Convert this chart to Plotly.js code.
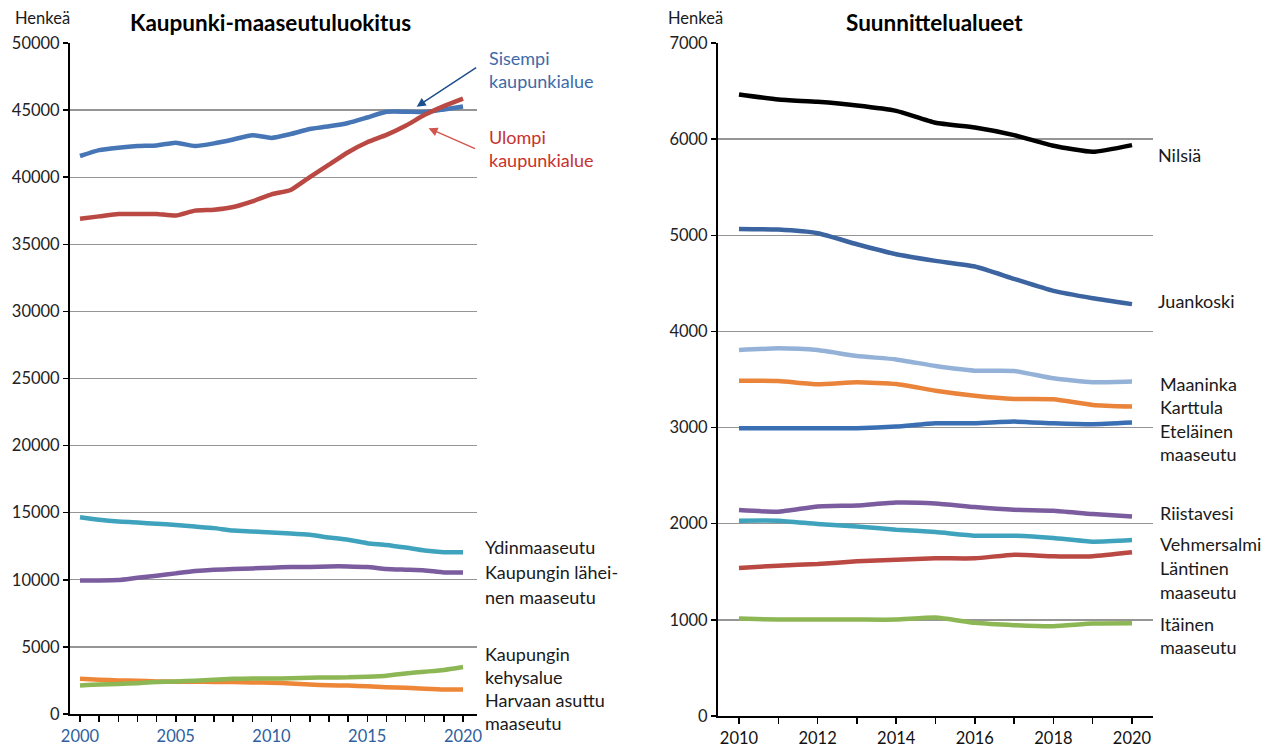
<!DOCTYPE html>
<html>
<head>
<meta charset="utf-8">
<script src="https://cdn.plot.ly/plotly-3.0.1.min.js"></script>
<style>html,body{margin:0;padding:0;background:#fff;}#chart{width:1270px;height:749px;}</style>
</head>
<body>
<div id="chart"></div>
<script>
// ---- Left chart: Kaupunki-maaseutuluokitus ----
const yearsLeft = [2000,2001,2002,2003,2004,2005,2006,2007,2008,2009,2010,2011,2012,2013,2014,2015,2016,2017,2018,2019,2020];
const sisempi   = [41580,42020,42200,42320,42370,42570,42320,42520,42810,43130,42930,43220,43590,43790,44040,44450,44870,44880,44850,45050,45270];
const ulompi    = [36910,37080,37260,37260,37260,37140,37510,37580,37780,38200,38720,39050,40010,40930,41860,42600,43150,43830,44650,45300,45860];
const ydinmaaseutu = [14660,14470,14340,14270,14170,14090,13970,13850,13670,13600,13520,13450,13350,13150,12980,12730,12600,12400,12180,12060,12060];
const lahimaaseutu = [9950,9950,9980,10150,10300,10480,10650,10750,10800,10850,10900,10950,10950,11000,11000,10950,10800,10750,10700,10550,10550];
const kehysalue    = [2130,2200,2230,2300,2380,2430,2480,2560,2620,2640,2650,2660,2700,2720,2730,2780,2850,3020,3150,3280,3500];
const harvaan      = [2630,2560,2500,2480,2430,2410,2400,2390,2380,2350,2330,2270,2190,2140,2120,2060,2000,1950,1880,1820,1820];
const leftTickVals = yearsLeft;
const leftTickText = ['2000','','','','','2005','','','','','2010','','','','','2015','','','','','2020'];

// ---- Right chart: Suunnittelualueet ----
const yearsRight = [2010,2011,2012,2013,2014,2015,2016,2017,2018,2019,2020];
const nilsia     = [6464,6412,6388,6350,6294,6170,6121,6042,5931,5868,5938];
const juankoski  = [5066,5059,5021,4907,4803,4734,4675,4547,4422,4346,4284];
const maaninka   = [3806,3824,3806,3744,3709,3640,3592,3589,3512,3471,3478];
const karttula   = [3488,3484,3450,3471,3453,3384,3332,3298,3294,3235,3218];
const etelainen  = [2993,2993,2993,2993,3010,3045,3045,3062,3045,3035,3052];
const riistavesi = [2142,2125,2180,2190,2221,2211,2173,2145,2135,2100,2076];
const vehmersalmi= [2031,2031,1997,1972,1938,1913,1875,1875,1851,1813,1830];
const lantinen   = [1540,1564,1581,1609,1626,1640,1640,1678,1661,1661,1702];
const itainen    = [1014,1003,1003,1003,1003,1024,969,945,934,962,965];
const rightTickVals = yearsRight;
const rightTickText = ['2010','','2012','','2014','','2016','','2018','','2020'];

const W = 1270, H = 749;
const px = v => v / W;
const py = v => 1 - v / H;
const FONT = 'Lato, "Open Sans", sans-serif';

function ln(x, y, color, xa, ya, width) {
  return {x: x, y: y, type: 'scatter', mode: 'lines', xaxis: xa, yaxis: ya,
    line: {color: color, width: width || 4.5, shape: 'spline', smoothing: 0.5},
    hoverinfo: 'skip', showlegend: false};
}

const data = [
  ln(yearsLeft, sisempi, '#4676B5', 'x', 'y'),
  ln(yearsLeft, ulompi, '#BA4843', 'x', 'y'),
  ln(yearsLeft, ydinmaaseutu, '#3FA3BD', 'x', 'y'),
  ln(yearsLeft, lahimaaseutu, '#7B5C9E', 'x', 'y'),
  ln(yearsLeft, harvaan, '#EE8638', 'x', 'y'),
  ln(yearsLeft, kehysalue, '#8DB654', 'x', 'y'),
  ln(yearsRight, nilsia, '#000000', 'x2', 'y2'),
  ln(yearsRight, juankoski, '#3B64A0', 'x2', 'y2'),
  ln(yearsRight, maaninka, '#94B2D8', 'x2', 'y2'),
  ln(yearsRight, karttula, '#E9843A', 'x2', 'y2'),
  ln(yearsRight, etelainen, '#3A6FB4', 'x2', 'y2'),
  ln(yearsRight, riistavesi, '#7B5C9E', 'x2', 'y2'),
  ln(yearsRight, vehmersalmi, '#3FA3BD', 'x2', 'y2'),
  ln(yearsRight, lantinen, '#BA4843', 'x2', 'y2'),
  ln(yearsRight, itainen, '#8DB654', 'x2', 'y2')
];

const axisCommon = {
  showline: true, linecolor: '#000', linewidth: 2, ticks: 'outside', tickcolor: '#000',
  ticklen: 6, tickwidth: 1.5, zeroline: false, fixedrange: true
};

function lbl(text, x, y, color, size) {
  return {text: text, x: px(x), y: py(y), xref: 'paper', yref: 'paper', xanchor: 'left', yanchor: 'middle',
    showarrow: false, font: {family: FONT, size: size || 18, color: color || '#1a1a1a'}};
}

const annotations = [
  {text: '<b>Kaupunki-maaseutuluokitus</b>', x: px(270), y: py(22), xref: 'paper', yref: 'paper', xanchor: 'center', yanchor: 'middle', showarrow: false, font: {family: FONT, size: 22.5, color: '#000'}},
  {text: '<b>Suunnittelualueet</b>', x: px(934), y: py(22), xref: 'paper', yref: 'paper', xanchor: 'center', yanchor: 'middle', showarrow: false, font: {family: FONT, size: 22.5, color: '#000'}},
  lbl('Henkeä', 13, 18, '#1a1a1a', 16.5),
  lbl('Henkeä', 666, 18, '#1a1a1a', 16.5),
  lbl('Sisempi', 487, 58, '#3E6BA8'),
  lbl('kaupunkialue', 487, 81, '#3E6BA8'),
  lbl('Ulompi', 487, 137, '#C8322C'),
  lbl('kaupunkialue', 487, 160, '#C8322C'),
  lbl('Ydinmaaseutu', 483, 547),
  lbl('Kaupungin lähei-', 483, 572),
  lbl('nen maaseutu', 483, 597),
  lbl('Kaupungin', 483, 654),
  lbl('kehysalue', 483, 677),
  lbl('Harvaan asuttu', 483, 700),
  lbl('maaseutu', 483, 723),
  lbl('Nilsiä', 1156, 155),
  lbl('Juankoski', 1156, 301),
  lbl('Maaninka', 1158, 384),
  lbl('Karttula', 1158, 407),
  lbl('Eteläinen', 1158, 431),
  lbl('maaseutu', 1158, 454),
  lbl('Riistavesi', 1158, 513),
  lbl('Vehmersalmi', 1158, 544),
  lbl('Läntinen', 1158, 568),
  lbl('maaseutu', 1158, 592),
  lbl('Itäinen', 1158, 624),
  lbl('maaseutu', 1158, 647),
  {text: '', x: 2017.58, y: 45250, xref: 'x', yref: 'y', ax: 61, ay: -40, showarrow: true,
   arrowhead: 2, arrowsize: 1.2, arrowwidth: 1.5, arrowcolor: '#1F4E8C'},
  {text: '', x: 2018.2, y: 43650, xref: 'x', yref: 'y', ax: 48, ay: 21, showarrow: true,
   arrowhead: 2, arrowsize: 1.2, arrowwidth: 1.5, arrowcolor: '#D2564F'}
];

const layout = {
  width: W, height: H,
  margin: {l: 0, r: 0, t: 0, b: 0},
  paper_bgcolor: '#fff', plot_bgcolor: 'rgba(0,0,0,0)',
  font: {family: FONT, size: 17, color: '#222'},
  showlegend: false,
  xaxis: Object.assign({}, axisCommon, {
    domain: [px(70), px(477)], range: [1999.478, 2020.73], anchor: 'y',
    tickmode: 'array', tickvals: leftTickVals, ticktext: leftTickText,
    showgrid: false, tickfont: {family: FONT, size: 16.5, color: '#2F5F9E'}
  }),
  yaxis: Object.assign({}, axisCommon, {
    domain: [py(714), py(43)], range: [0, 50000], anchor: 'x',
    tickmode: 'array', tickvals: [0,5000,10000,15000,20000,25000,30000,35000,40000,45000,50000],
    ticktext: ['0','5000','10000','15000','20000','25000','30000','35000','40000','45000','50000'],
    showgrid: true, gridcolor: '#959595', gridwidth: 1.3, ticklen: 5,
    tickfont: {family: FONT, size: 16.5, color: '#222'}
  }),
  xaxis2: Object.assign({}, axisCommon, {
    domain: [px(718), px(1153)], range: [2009.466, 2020.534], anchor: 'y2',
    tickmode: 'array', tickvals: rightTickVals, ticktext: rightTickText,
    showgrid: false, tickfont: {family: FONT, size: 16.5, color: '#111'}
  }),
  yaxis2: Object.assign({}, axisCommon, {
    domain: [py(716), py(43)], range: [0, 7000], anchor: 'x2',
    tickmode: 'array', tickvals: [0,1000,2000,3000,4000,5000,6000,7000],
    ticktext: ['0','1000','2000','3000','4000','5000','6000','7000'],
    showgrid: true, gridcolor: '#959595', gridwidth: 1.3, ticklen: 5,
    tickfont: {family: FONT, size: 16.5, color: '#222'}
  }),
  annotations: annotations
};

Plotly.newPlot('chart', data, layout, {staticPlot: true, displayModeBar: false});
</script>
</body>
</html>
